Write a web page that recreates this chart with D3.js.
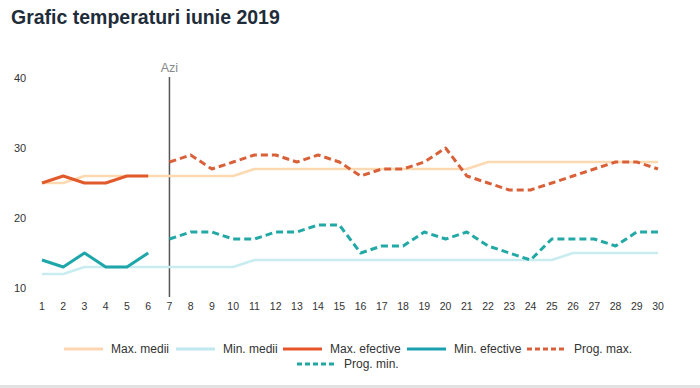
<!DOCTYPE html>
<html>
<head>
<meta charset="utf-8">
<script src="https://cdn.jsdelivr.net/npm/d3@7"></script>
<style>
  body { margin: 0; background: #fff; }
  svg { display: block; font-family: "Liberation Sans", Arial, sans-serif; }
</style>
</head>
<body>
<div id="chart"></div>
<script>
// zilele lunii
var days = d3.range(1, 31);
var yTicks = [10, 20, 30, 40];
var today = 7;

// medii multianuale
var maxMedii = [25, 25, 26, 26, 26, 26, 26, 26, 26, 26, 27, 27, 27, 27, 27, 27, 27, 27, 27, 27, 27, 28, 28, 28, 28, 28, 28, 28, 28, 28];
var minMedii = [12, 12, 13, 13, 13, 13, 13, 13, 13, 13, 14, 14, 14, 14, 14, 14, 14, 14, 14, 14, 14, 14, 14, 14, 14, 15, 15, 15, 15, 15];
// valori masurate, zilele 1-6
var maxEfective = [25, 26, 25, 25, 26, 26];
var minEfective = [14, 13, 15, 13, 13, 15];
// prognoza, zilele 7-30
var progMax = [28, 29, 27, 28, 29, 29, 28, 29, 28, 26, 27, 27, 28, 30, 26, 25, 24, 24, 25, 26, 27, 28, 28, 27];
var progMin = [17, 18, 18, 17, 17, 18, 18, 19, 19, 15, 16, 16, 18, 17, 18, 16, 15, 14, 17, 17, 17, 16, 18, 18];

var width = 700, height = 388;

var svg = d3.select("#chart").append("svg")
    .attr("width", width)
    .attr("height", height);

svg.append("text")
    .attr("x", 11).attr("y", 24)
    .attr("font-size", 19.5).attr("font-weight", "bold")
    .attr("fill", "#1f2d3a")
    .text("Grafic temperaturi iunie 2019");

var x = d3.scaleLinear().domain([1, 30]).range([42, 658]);
var y = d3.scaleLinear().domain([10, 40]).range([288, 78]);

// etichete axa y
svg.append("g").selectAll("text")
    .data(yTicks).enter().append("text")
    .attr("x", 14).attr("y", function(d) { return y(d); })
    .attr("dy", "0.35em")
    .attr("font-size", 11).attr("fill", "#333")
    .text(function(d) { return d; });

// etichete axa x
svg.append("g").selectAll("text")
    .data(days).enter().append("text")
    .attr("x", function(d) { return x(d); })
    .attr("y", 306).attr("dy", "0.35em")
    .attr("text-anchor", "middle")
    .attr("font-size", 10.5).attr("fill", "#333")
    .text(function(d) { return d; });

// linia "Azi"
svg.append("line")
    .attr("x1", x(today)).attr("x2", x(today))
    .attr("y1", 77).attr("y2", 297)
    .attr("stroke", "#555").attr("stroke-width", 1.5);
svg.append("text")
    .attr("x", x(today)).attr("y", 68).attr("dy", "0.35em")
    .attr("text-anchor", "middle")
    .attr("font-size", 12.5).attr("fill", "#888")
    .text("Azi");

var series = [
  { name: "Max. medii", values: maxMedii, start: 1, color: "#fdd9b2", legend: "#fdd5b0", width: 2.5, dash: null },
  { name: "Min. medii", values: minMedii, start: 1, color: "#c9ecf1", legend: "#bfe8ef", width: 2.5, dash: null },
  { name: "Max. efective", values: maxEfective, start: 1, color: "#e05a2b", legend: "#e8542a", width: 3, dash: null },
  { name: "Min. efective", values: minEfective, start: 1, color: "#1ea6aa", legend: "#1ba0b0", width: 3, dash: null },
  { name: "Prog. max.", values: progMax, start: 7, color: "#d9613a", legend: "#d9613a", width: 3, dash: "7,4" },
  { name: "Prog. min.", values: progMin, start: 7, color: "#22a8a5", legend: "#22a8a5", width: 3, dash: "7,4" }
];

var line = d3.line()
    .x(function(d) { return x(d.day); })
    .y(function(d) { return y(d.v); });

svg.append("g").selectAll("path")
    .data(series).enter().append("path")
    .attr("fill", "none")
    .attr("stroke", function(s) { return s.color; })
    .attr("stroke-width", function(s) { return s.width; })
    .attr("stroke-dasharray", function(s) { return s.dash; })
    .attr("stroke-linejoin", "round")
    .attr("d", function(s) {
      return line(s.values.map(function(v, i) { return { day: s.start + i, v: v }; }));
    });

// legenda
var legendPos = [
  { x: 64, y: 349 }, { x: 176, y: 349 }, { x: 283, y: 349 },
  { x: 407, y: 349 }, { x: 527, y: 349 }, { x: 297, y: 364 }
];
var leg = svg.append("g").selectAll("g")
    .data(series).enter().append("g")
    .attr("transform", function(s, i) { return "translate(" + legendPos[i].x + "," + legendPos[i].y + ")"; });
leg.append("line")
    .attr("x1", 0).attr("x2", 39).attr("y1", 0).attr("y2", 0)
    .attr("stroke", function(s) { return s.legend; })
    .attr("stroke-width", 3)
    .attr("stroke-dasharray", function(s) { return s.dash ? "5,3" : null; });
leg.append("text")
    .attr("x", 47).attr("y", 0).attr("dy", "0.35em")
    .attr("font-size", 12).attr("fill", "#333")
    .text(function(s) { return s.name; });

svg.append("rect")
    .attr("x", 0).attr("y", 385).attr("width", width).attr("height", 3)
    .attr("fill", "#e2e2e2");
</script>
</body>
</html>
